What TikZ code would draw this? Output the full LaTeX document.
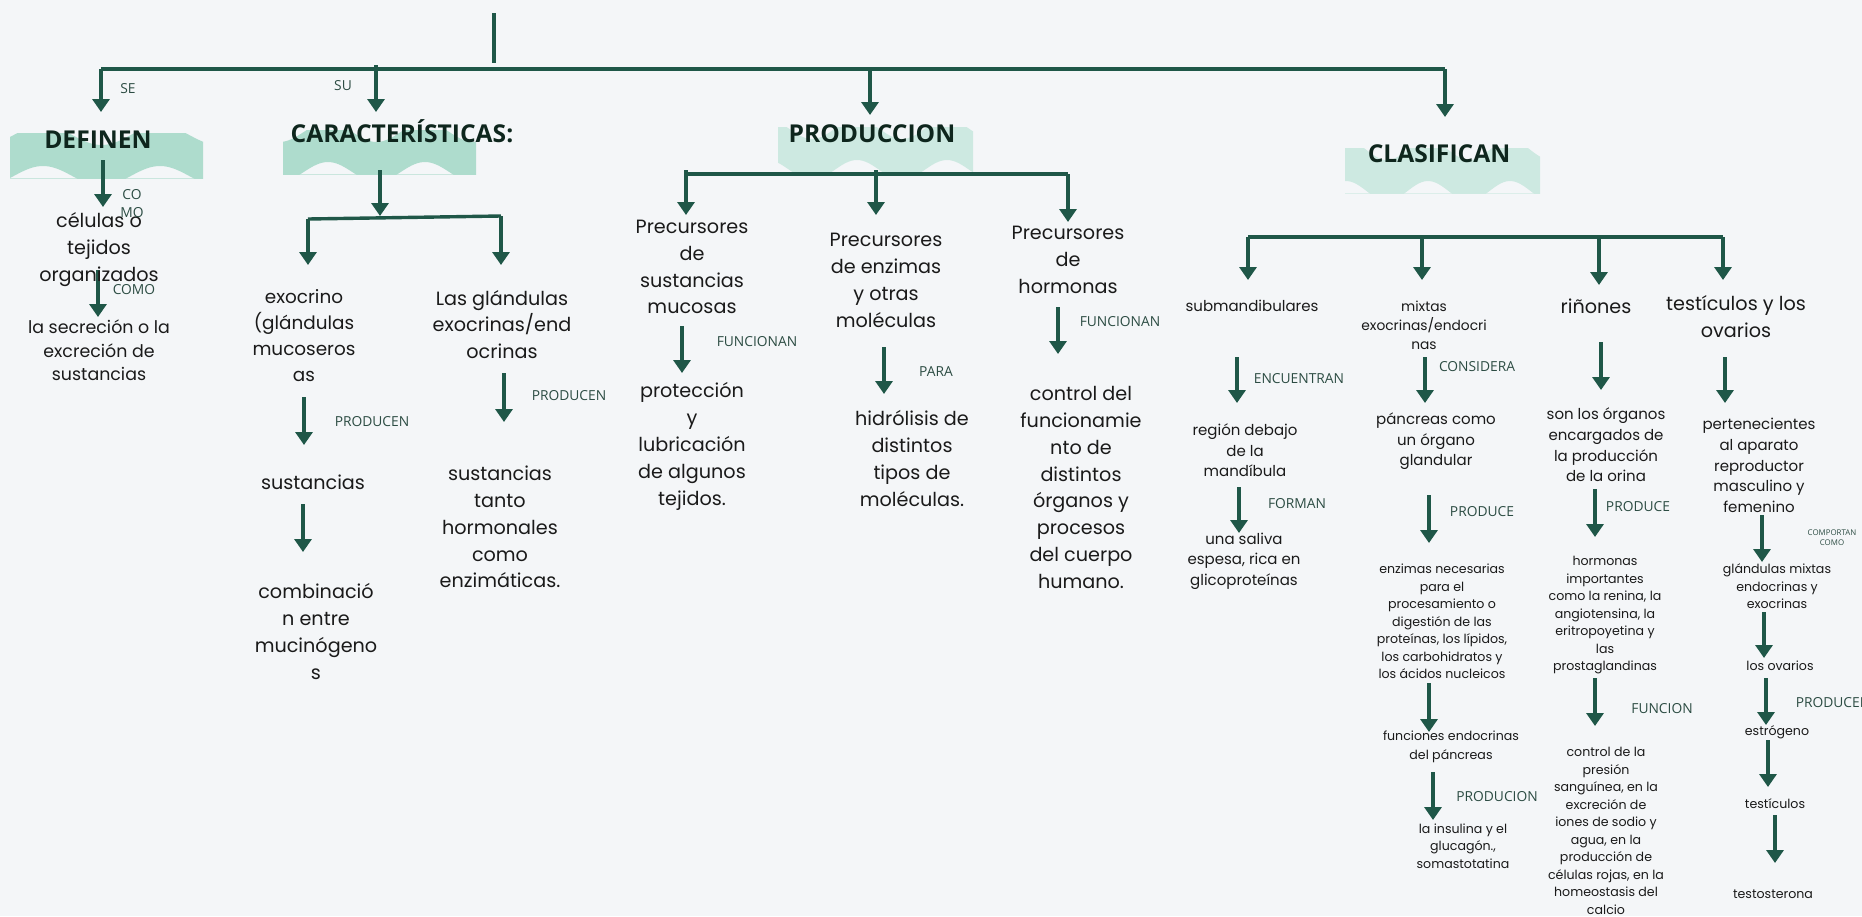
\documentclass[tikz,border=0pt]{standalone}
\usepackage{fontspec}
\usetikzlibrary{arrows.meta}
\newfontfamily\bodyfont{Poppins}
\newfontfamily\labfont{Open Sans}
\definecolor{bg}{HTML}{F4F6F8}
\definecolor{wire}{HTML}{1F5748}
\definecolor{ink}{HTML}{1A1A1A}
\definecolor{titleink}{HTML}{0E261D}
\definecolor{labink}{HTML}{2C4C43}
\definecolor{mintA}{HTML}{AEDCCD}
\definecolor{mintB}{HTML}{CDE9E1}

\tikzset{
  link/.style={draw=wire, line width=1.7pt},
  flow/.style={link, -{Triangle[width=8.5pt,length=6.5pt]}},
  txt/.style={align=center, inner sep=0pt, text=ink},
  tbig/.style={txt, font=\bodyfont\fontsize{9.6}{13.4}\selectfont},
  tmid/.style={txt, font=\bodyfont\fontsize{9.2}{12.9}\selectfont},
  tsec/.style={txt, font=\bodyfont\fontsize{8.7}{11.8}\selectfont},
  tsm/.style={txt, font=\bodyfont\fontsize{7.5}{10.3}\selectfont},
  tmx/.style={txt, font=\bodyfont\fontsize{6.9}{9.5}\selectfont},
  txs/.style={txt, font=\bodyfont\fontsize{6.3}{8.75}\selectfont},
  lab/.style={align=center, inner sep=0pt, text=labink, font=\labfont\fontsize{6.9}{9}\selectfont},
  labtiny/.style={align=center, inner sep=0pt, text=labink, font=\labfont\fontsize{3.95}{5}\selectfont},
  title/.style={anchor=base, inner sep=0pt, text=titleink, font=\labfont\bfseries\fontsize{12.3}{14}\selectfont},
}

% vertical arrow with named end points: name, x, y start, y tip
\newcommand\vflow[4]{%
  \coordinate (#1-s) at (#2,#3);
  \coordinate (#1-e) at (#2,#4);
  \draw[flow] (#1-s) -- (#1-e);}

% wavy ribbon banner: x1, y1, x2, y2, period, x of crest, colour
\newcommand\ribbon[7]{%
  \begin{scope}
    \clip (#1,#2) rectangle (#3,#4);
    \pgfmathsetmacro\ym{(#2+#4)/2}
    \pgfmathsetmacro\th{(#4-#2)/2-2}
    \fill[#7] plot[domain=#1:#3, samples=70, smooth] (\x,{\ym-\th-10*cos(360/#5*(\x-#6))})
      -- plot[domain=#3:#1, samples=70, smooth] (\x,{\ym+\th-10*cos(360/#5*(\x-#6))}) -- cycle;
  \end{scope}
  \draw[#7, line width=0.5pt, opacity=0.6] (#1,#4) -- (#3,#4);}

\begin{document}
\begin{tikzpicture}[x=0.5pt, y=-0.5pt]
\useasboundingbox (0,0) rectangle (1862,916);
\fill[bg] (0,0) rectangle (1862,916);

% banners behind the headings
\ribbon{10}{133}{203}{178}{117}{43}{mintA}
\ribbon{283}{130}{476}{174}{97}{328}{mintA}
\ribbon{778}{127}{973}{172}{90}{857}{mintB}
\ribbon{1345}{148}{1540}{193}{82}{1428}{mintB}

% headings
\node[title] (definen) at (98,148) {DEFINEN};
\node[title] (caract) at (402,142) {CARACTERÍSTICAS:};
\node[title] (produccion) at (872,142) {PRODUCCION};
\node[title] (clasifican) at (1439,162) {CLASIFICAN};

% top bar
\coordinate (root-s) at (494,13);
\coordinate (root-e) at (494,63);
\draw[link] (root-s) -- (root-e);
\coordinate (bar-l) at (101,69);
\coordinate (bar-r) at (1445,69);
\draw[link] (bar-l) -- (bar-r);
\vflow{a-se}{101}{69}{112}
\vflow{a-su}{376}{65}{112}
\vflow{a-pr}{870}{69}{115}
\vflow{a-cl}{1445}{69}{117}
\node[lab] (l-se) at (128,89) {SE};
\node[lab] (l-su) at (343,86) {SU};

% DEFINEN column
\vflow{a-def1}{103}{160}{207}
\vflow{a-def2}{98}{270}{317}
\node[tbig] (celulas) at (99,249.5) {células o\\tejidos\\organizados};
\node[tsec] (secrecion) at (99,350.5) {la secreción o la\\excreción de\\sustancias};
\node[lab, font=\labfont\fontsize{6.9}{9}\selectfont] (l-como1) at (132,204) {CO\\MO};
\node[lab] (l-como2) at (134,290) {COMO};

% CARACTERISTICAS branch
\vflow{a-car}{380}{170}{216}
\coordinate (car-l) at (308,219);
\coordinate (car-r) at (501,216);
\draw[link] (car-l) -- (car-r);
\vflow{a-car1}{308}{219}{265}
\vflow{a-car2}{501}{216}{265}
\node[tmid] (exocrino) at (304,335.5) {exocrino\\(glándulas\\mucoseros\\as};
\node[tbig] (sust1) at (313,482) {sustancias};
\node[tbig] (combin) at (316,631.5) {combinació\\n entre\\mucinógeno\\s};
\node[tbig] (lasgland) at (502,324.5) {Las glándulas\\exocrinas/end\\ocrinas};
\node[tbig] (sust2) at (500,527) {sustancias\\tanto\\hormonales\\como\\enzimáticas.};
\vflow{a-exo}{304}{397}{445}
\vflow{a-sus}{303}{504}{552}
\vflow{a-las}{504}{373}{422}
\node[lab] (l-prod1) at (372,422) {PRODUCEN};
\node[lab] (l-prod2) at (569,396) {PRODUCEN};

% PRODUCCION branch
\coordinate (pro-l) at (686,174);
\coordinate (pro-r) at (1068,174);
\draw[link] (pro-l) -- (pro-r);
\vflow{a-pro1}{686}{170}{215}
\vflow{a-pro2}{876}{170}{215}
\vflow{a-pro3}{1068}{174}{222}
\node[tbig] (precA) at (692,267) {Precursores\\de\\sustancias\\mucosas};
\node[tbig] (precB) at (886,280.5) {Precursores\\de enzimas\\y otras\\moléculas};
\node[tbig] (precC) at (1068,260) {Precursores\\de\\hormonas};
\vflow{a-pa}{682}{326}{373}
\vflow{a-pb}{884}{347}{394}
\vflow{a-pc}{1058}{307}{354}
\node[lab] (l-fun1) at (757,342) {FUNCIONAN};
\node[lab] (l-para) at (936,372) {PARA};
\node[lab] (l-fun2) at (1120,322) {FUNCIONAN};
\node[tbig] (proteccion) at (692,446.5) {protección\\y\\lubricación\\de algunos\\tejidos.};
\node[tbig] (hidrolisis) at (912,458.5) {hidrólisis de\\distintos\\tipos de\\moléculas.};
\node[tbig] (control) at (1081,487.5) {control del\\funcionamie\\nto de\\distintos\\órganos y\\procesos\\del cuerpo\\humano.};

% CLASIFICAN branch
\coordinate (cla-l) at (1248,237);
\coordinate (cla-r) at (1723,237);
\draw[link] (cla-l) -- (cla-r);
\vflow{a-cl1}{1248}{237}{280}
\vflow{a-cl2}{1422}{237}{280}
\vflow{a-cl3}{1599}{237}{285}
\vflow{a-cl4}{1723}{237}{280}
\node[tsm] (submand) at (1252,306) {submandibulares};
\node[tmx] (mixtas) at (1424,325) {mixtas\\exocrinas/endocri\\nas};
\node[tbig] (rinones) at (1596,306) {riñones};
\node[tbig] (testovar) at (1736,316.5) {testículos y los\\ovarios};

% submandibulares column
\vflow{a-sm1}{1237}{357}{403}
\vflow{a-sm2}{1239}{487}{533}
\node[lab] (l-enc) at (1299,379) {ENCUENTRAN};
\node[lab] (l-for) at (1297,504) {FORMAN};
\node[tsm] (region) at (1245,450.5) {región debajo\\de la\\mandíbula};
\node[tsm] (saliva) at (1244,561) {una saliva\\espesa, rica en\\glicoproteínas};

% mixtas column
\vflow{a-mx1}{1425}{357}{403}
\vflow{a-mx2}{1429}{495}{543}
\vflow{a-mx3}{1429}{683}{732}
\vflow{a-mx4}{1433}{772}{820}
\node[lab] (l-con) at (1477,367) {CONSIDERA};
\node[lab] (l-pde1) at (1482,512) {PRODUCE};
\node[lab] (l-pcion) at (1497,797) {PRODUCION};
\node[tsm] (pancreas) at (1436,441.5) {páncreas como\\un órgano\\glandular};
\node[txs] (enzimas) at (1442,621.5) {enzimas necesarias\\para el\\procesamiento o\\digestión de las\\proteínas, los lípidos,\\los carbohidratos y\\los ácidos nucleicos};
\node[txs, font=\bodyfont\fontsize{6.3}{9.5}\selectfont] (funcend) at (1451,746.5) {funciones endocrinas\\del páncreas};
\node[txs] (insulina) at (1463,846) {la insulina y el\\glucagón.,\\somastotatina};

% riñones column
\vflow{a-ri1}{1601}{342}{390}
\vflow{a-ri2}{1595}{489}{537}
\vflow{a-ri3}{1595}{678}{726}
\node[lab] (l-pde2) at (1638,507) {PRODUCE};
\node[lab] (l-func) at (1662,709) {FUNCION};
\node[tsm] (organos) at (1606,445) {son los órganos\\encargados de\\la producción\\de la orina};
\node[txs] (hormonas) at (1605,615.5) {hormonas\\importantes\\como la renina, la\\angiotensina, la\\eritropoyetina y\\las\\prostaglandinas};
\node[txs] (presion) at (1606,831) {control de la\\presión\\sanguínea, en la\\excreción de\\iones de sodio y\\agua, en la\\producción de\\células rojas, en la\\homeostasis del\\calcio};

% testículos y ovarios column
\vflow{a-te1}{1725}{357}{403}
\vflow{a-te2}{1762}{515}{562}
\vflow{a-te3}{1764}{612}{658}
\vflow{a-te4}{1766}{678}{725}
\vflow{a-te5}{1768}{740}{787}
\vflow{a-te6}{1775}{815}{863}
\node[labtiny] (l-comp) at (1832,538) {COMPORTAN\\COMO};
\node[lab] (l-prod3) at (1833,703) {PRODUCEN};
\node[tsm] (perten) at (1759,465.5) {pertenecientes\\al aparato\\reproductor\\masculino y\\femenino};
\node[txs] (gmixtas) at (1777,586.5) {glándulas mixtas\\endocrinas y\\exocrinas};
\node[txs] (ovarios) at (1780,666) {los ovarios};
\node[txs] (estrogeno) at (1777,732) {estrógeno};
\node[txs] (testic) at (1775,804) {testículos};
\node[txs] (testost) at (1773,894) {testosterona};
\end{tikzpicture}
\end{document}
